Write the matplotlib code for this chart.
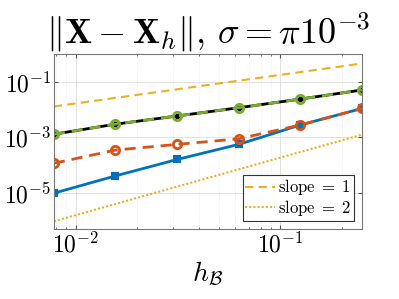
import numpy as np
import matplotlib.pyplot as plt

plt.rcParams["mathtext.fontset"] = "cm"
plt.rcParams["font.family"] = "serif"
plt.rcParams["font.serif"] = ["DejaVu Serif"]

# mesh sizes h_B
h = [1 / 128, 1 / 64, 1 / 32, 1 / 16, 1 / 8, 1 / 4]

# error values
err_blue = [9.8e-6, 4.1e-5, 1.6e-4, 5.6e-4, 2.8e-3, 1.1e-2]
err_orange = [1.17e-4, 3.5e-4, 5.6e-4, 8.9e-4, 2.8e-3, 1.1e-2]
err_black = [1.3e-3, 3.0e-3, 5.9e-3, 1.17e-2, 2.4e-2, 5.1e-2]
err_green = [1.3e-3, 3.0e-3, 5.9e-3, 1.17e-2, 2.4e-2, 5.1e-2]

# reference slope lines (end points)
h_ref = [1 / 128, 1 / 4]
slope1 = [1.3e-2, 0.46]
slope2 = [9.5e-7, 1.25e-3]

blue = "#0072BD"
orange = "#D95319"
yellow = "#EDB120"
green = "#77AC30"

fig = plt.figure(figsize=(3.99, 2.99), dpi=100)
ax = fig.add_axes([0.135, 0.234, 0.772, 0.585])

ax.plot(h, err_blue, color=blue, lw=2, marker="s", ms=5,
        markerfacecolor=blue, markeredgewidth=1.5)
ax.plot(h, err_orange, color=orange, lw=2, ls=(0, (4, 2.5)), marker="o", ms=6,
        markerfacecolor="none", markeredgewidth=2)
ax.plot(h, err_black, color="k", lw=2, marker="o", ms=3, markerfacecolor="k")
ax.plot(h, err_green, color=green, lw=2, ls=(0, (4, 2.5)), marker="o", ms=6,
        markerfacecolor="none", markeredgewidth=2)
l1, = ax.plot(h_ref, slope1, color=yellow, lw=1.5, ls=(0, (4, 2.5)))
l2, = ax.plot(h_ref, slope2, color=yellow, lw=1.5, ls=(0, (1, 1)))

ax.set_xscale("log")
ax.set_yscale("log")
ax.set_xlim(1 / 128, 1 / 4)
ax.set_ylim(5e-7, 1)

ax.set_yticks([1e-5, 1e-3, 1e-1])
ax.set_yticklabels([r"$10^{-5}$", r"$10^{-3}$", r"$10^{-1}$"])
ax.set_xticks([1e-2, 1e-1])
ax.set_xticklabels([r"$10^{-2}$", r"$10^{-1}$"])
ax.tick_params(which="both", direction="in", top=True, right=True,
               labelsize=17, color="#555555")
ax.tick_params(which="major", length=3, pad=2)
ax.tick_params(which="minor", length=1.5)

ax.grid(True, which="major", color="#dddddd", lw=0.6)
ax.grid(True, which="minor", color="#e4e4e4", lw=0.5, ls=":")
for s in ax.spines.values():
    s.set_color("#777777")
    s.set_linewidth(0.8)

ax.set_title(r"$\|\mathbf{X}-\mathbf{X}_h\|,\,\sigma=\pi10^{-3}$", fontsize=26, pad=8)
ax.set_xlabel(r"$h_{\mathcal{B}}$", fontsize=20, labelpad=2)

leg = ax.legend([l1, l2], [r"$\mathrm{slope}\;=\;1$", r"$\mathrm{slope}\;=\;2$"],
                loc="lower right", fontsize=12, frameon=True, fancybox=False,
                framealpha=1, edgecolor="#333333", borderpad=0.15,
                handlelength=1.8, handletextpad=0.2, labelspacing=0.05,
                borderaxespad=0.5)
leg.get_frame().set_linewidth(0.8)

fig.savefig("out.png", dpi=100)
